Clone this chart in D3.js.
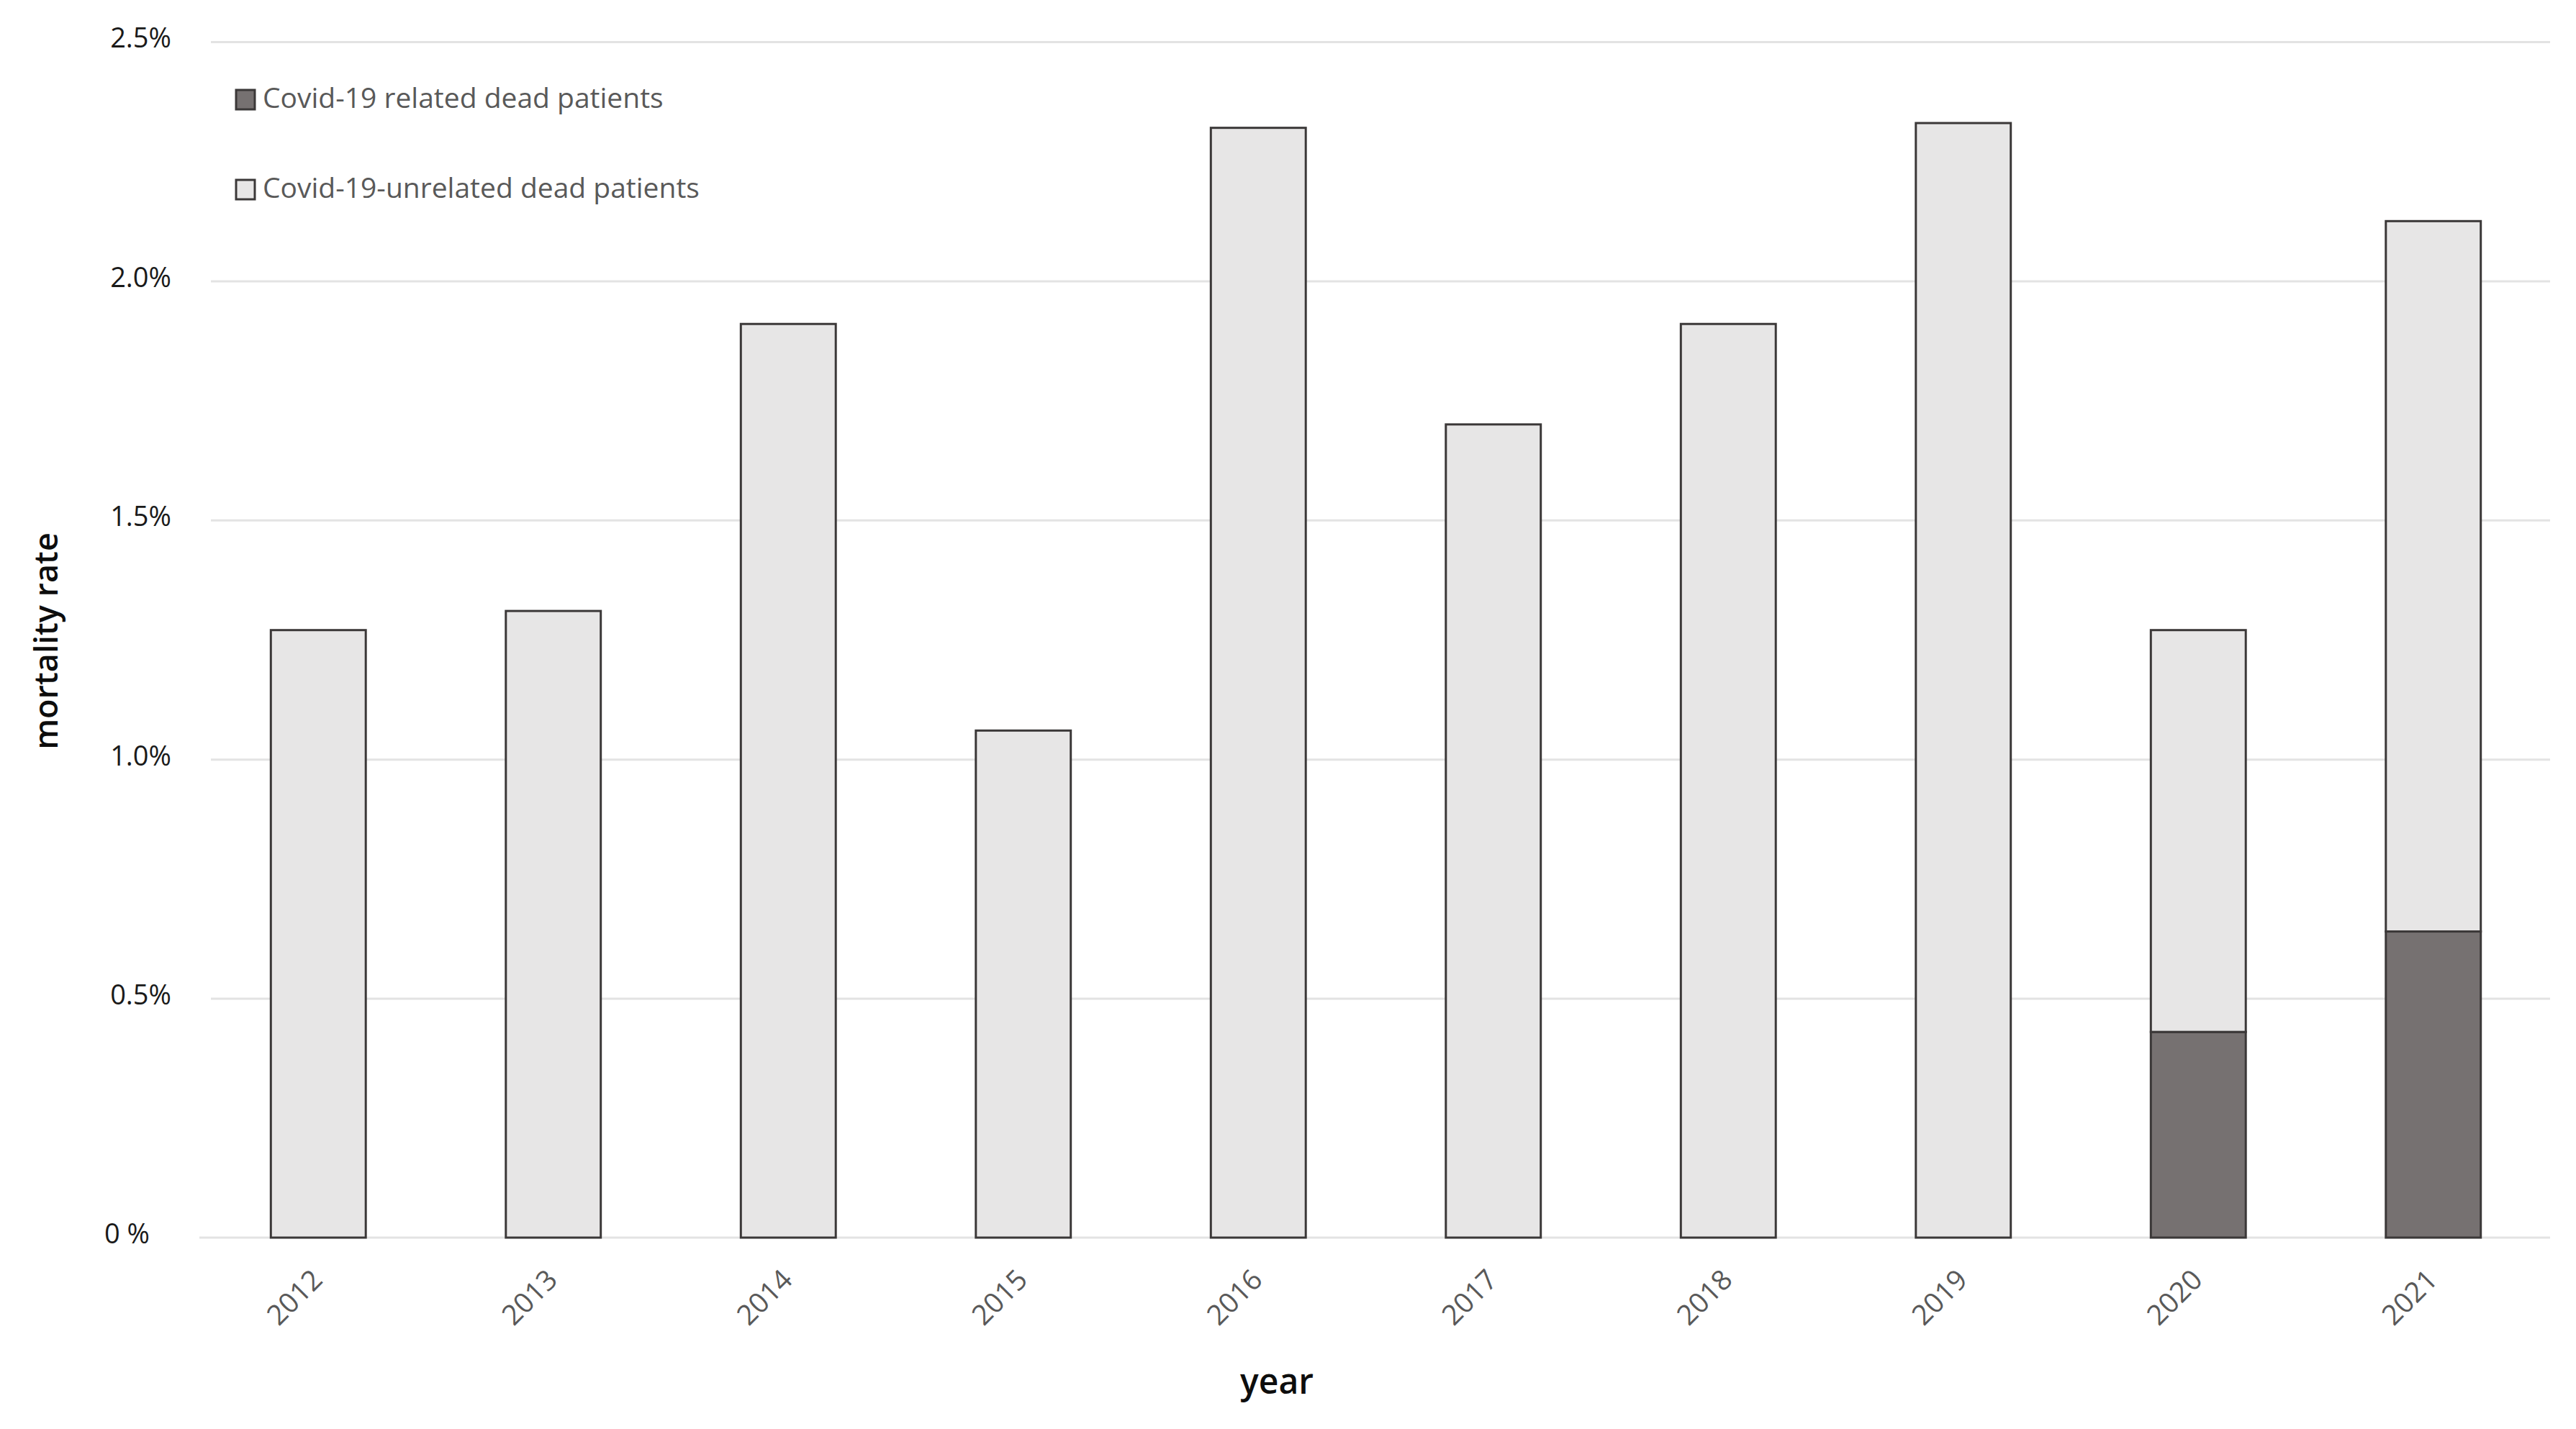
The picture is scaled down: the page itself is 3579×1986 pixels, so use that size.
<!DOCTYPE html>
<html>
<head>
<meta charset="utf-8">
<script src="https://cdn.jsdelivr.net/npm/d3@7"></script>
<style>
  body { margin: 0; background: #fff; }
  text { font-family: "Open Sans", sans-serif; }
</style>
</head>
<body>
<div id="chart"></div>
<script>
//values, mortality rate in %
const years = ["2012", "2013", "2014", "2015", "2016", "2017", "2018", "2019", "2020", "2021"];
const covidRelated = [0, 0, 0, 0, 0, 0, 0, 0, 0.43, 0.64];
const covidUnrelated = [1.27, 1.31, 1.91, 1.06, 2.32, 1.70, 1.91, 2.33, 0.84, 1.485];

const yTicks = [0, 0.5, 1.0, 1.5, 2.0, 2.5];
const yTickLabels = ["0 %", "0.5%", "1.0%", "1.5%", "2.0%", "2.5%"];

const seriesKeys = ["related", "unrelated"];
const seriesNames = ["Covid-19 related dead patients", "Covid-19-unrelated dead patients"];
const seriesColors = ["#767171", "#E7E6E6"];

const width = 3579, height = 1986;
const plot = { left: 279, right: 3544, top: 58, bottom: 1720 };

//table for d3.stack built from the arrays above
const table = years.map((y, i) => ({ year: y, related: covidRelated[i], unrelated: covidUnrelated[i] }));

const svg = d3.select("#chart").append("svg")
  .attr("width", width)
  .attr("height", height)
  .style("background", "#fff");

const x = d3.scaleBand().domain(years).range([plot.left, plot.right])
  .paddingInner(0.596).paddingOuter(0.298);
const y = d3.scaleLinear().domain([0, 2.5]).range([plot.bottom, plot.top]);

//gridlines
const grid = svg.append("g").attr("transform", `translate(293,0)`)
  .call(d3.axisLeft(y).tickValues(yTicks.slice(1)).tickSize(-(3543 - 293)).tickFormat(""));
grid.select(".domain").remove();
grid.selectAll("line").attr("stroke", "#e3e3e3").attr("stroke-width", 3);

svg.append("line")
  .attr("x1", 277).attr("x2", 3543)
  .attr("y1", y(0)).attr("y2", y(0))
  .attr("stroke", "#e3e3e3").attr("stroke-width", 3);

//y axis labels
const gy = svg.append("g").attr("transform", `translate(${plot.left},0)`)
  .call(d3.axisLeft(y).tickValues(yTicks).tickSize(0).tickPadding(41)
    .tickFormat((d, i) => yTickLabels[i]));
gy.select(".domain").remove();
gy.selectAll("text")
  .attr("dy", "0.21em")
  .attr("dx", (d, i) => i === 0 ? -30 : 0) // "0 %" sits a bit further left in the original
  .style("font-family", "'Open Sans', sans-serif")
  .style("font-size", "38px")
  .attr("fill", "#1a1a1a");

//x axis labels, rotated
const gx = svg.append("g").attr("transform", `translate(0,${plot.bottom})`)
  .call(d3.axisBottom(x).tickSize(0));
gx.select(".domain").remove();
gx.selectAll("text")
  .attr("x", 0).attr("y", 0).attr("dy", 0)
  .attr("text-anchor", "end")
  .attr("transform", "translate(8,61) rotate(-45)")
  .style("font-family", "'Open Sans', sans-serif")
  .style("font-size", "39px")
  .attr("fill", "#595959");

//stacked bars
const stacked = d3.stack().keys(seriesKeys)(table);

svg.append("g").selectAll("g")
  .data(stacked)
  .join("g")
    .attr("fill", (d, i) => seriesColors[i])
  .selectAll("rect")
  .data(d => d.filter(s => s[1] - s[0] > 0))
  .join("rect")
    .attr("x", d => x(d.data.year))
    .attr("width", x.bandwidth())
    .attr("y", d => y(d[1]))
    .attr("height", d => y(d[0]) - y(d[1]))
    .attr("stroke", "#3b3838")
    .attr("stroke-width", 3);

//legend
const legend = svg.append("g").selectAll("g")
  .data(seriesNames)
  .join("g")
    .attr("transform", (d, i) => `translate(328,${125 + i * 125})`);

legend.append("rect")
  .attr("width", 26).attr("height", 27)
  .attr("fill", (d, i) => seriesColors[i])
  .attr("stroke", "#3b3838")
  .attr("stroke-width", 3);

legend.append("text")
  .attr("x", 37).attr("y", 25)
  .attr("fill", "#595959")
  .style("font-size", "39px")
  .text(d => d);

//axis titles
svg.append("text")
  .attr("transform", "translate(80,891) rotate(-90)")
  .attr("text-anchor", "middle")
  .attr("fill", "#0d0d0d")
  .style("font-size", "45px")
  .style("font-weight", 600)
  .text("mortality rate");

svg.append("text")
  .attr("x", 1774).attr("y", 1937)
  .attr("text-anchor", "middle")
  .attr("fill", "#0d0d0d")
  .style("font-size", "48px")
  .style("font-weight", 600)
  .text("year");
</script>
</body>
</html>
